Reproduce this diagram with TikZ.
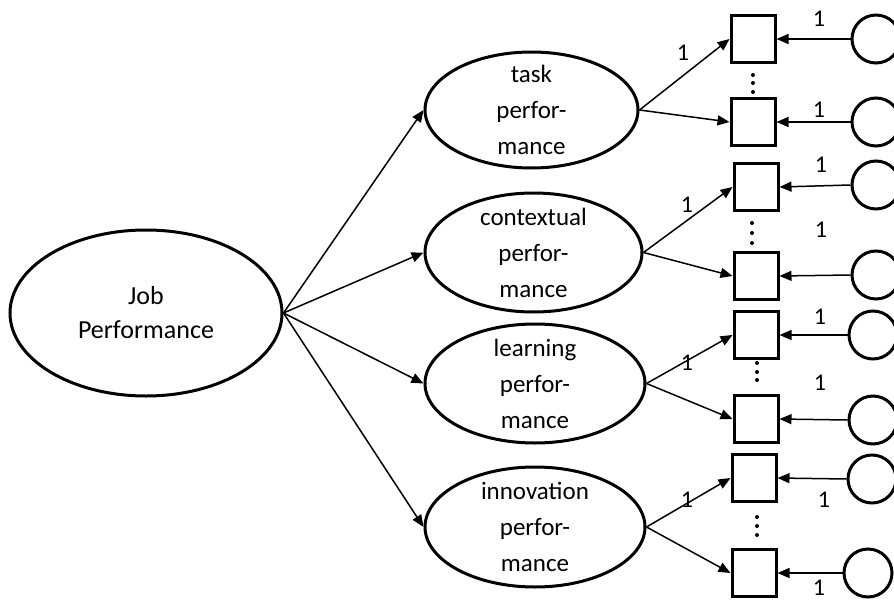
\documentclass[tikz,border=0pt]{standalone}
\usepackage{fontspec}
\setmainfont{Carlito}
\usetikzlibrary{shapes.geometric,arrows.meta}
\tikzset{
  el/.style={draw, ellipse, line width=3pt, inner sep=0pt},
  sq/.style={draw, rectangle, line width=3pt, minimum width=44pt, minimum height=47pt, inner sep=0pt},
  cir/.style={draw, circle, line width=3pt, minimum size=48pt, inner sep=0pt},
  lbl/.style={align=center, font=\fontsize{25}{36}\selectfont, inner sep=0pt},
  one/.style={font=\fontsize{24}{28}\selectfont, inner sep=0pt},
  arr/.style={line width=1.5pt, -{Triangle[length=12pt,width=10pt]}},
  dot/.style={fill=black}
}
\begin{document}
\begin{tikzpicture}[x=1pt,y=-1pt]
\useasboundingbox (0,0) rectangle (894,602);
% main ellipse
\node[el, minimum width=272pt, minimum height=166pt,
  label={[lbl, font=\fontsize{26}{34}\selectfont]center:Job\\Performance}] (job) at (146,313) {};
% dimension ellipses
\node[el, minimum width=213pt, minimum height=116pt, label={[lbl]center:task\\perfor-\\mance}] (task) at (531.5,110) {};
\node[el, minimum width=217pt, minimum height=119pt, label={[lbl]center:contextual\\perfor-\\mance}] (ctx) at (533.5,252.5) {};
\node[el, minimum width=220pt, minimum height=119pt, label={[lbl]center:learning\\perfor-\\mance}] (lrn) at (535,383.5) {};
\node[el, minimum width=220pt, minimum height=120pt, label={[lbl]center:innovation\\perfor-\\mance}] (inn) at (535,527) {};
% squares
\node[sq] (s1) at (753,39) {};
\node[sq] (s2) at (753,122) {};
\node[sq] (s3) at (756,187) {};
\node[sq] (s4) at (756,276) {};
\node[sq] (s5) at (756,335) {};
\node[sq] (s6) at (756,419) {};
\node[sq] (s7) at (754,478) {};
\node[sq] (s8) at (754,573) {};
% circles
\node[cir] (c1) at (876,39) {};
\node[cir] (c2) at (876,122) {};
\node[cir] (c3) at (876,185) {};
\node[cir] (c4) at (876,275) {};
\node[cir] (c5) at (873,335) {};
\node[cir] (c6) at (873,420) {};
\node[cir] (c7) at (872,479) {};
\node[cir] (c8) at (868,573) {};
% arrows from job
\draw[arr] (job.east) -- (task.west);
\draw[arr] (job.east) -- (ctx.west);
\draw[arr] (job.east) -- (lrn.west);
\draw[arr] (job.east) -- (inn.west);
% arrows to squares
\draw[arr] (task.east) -- (s1.west);
\draw[arr] (task.east) -- (s2.west);
\draw[arr] (ctx.east) -- (s3.west);
\draw[arr] (ctx.east) -- (s4.west);
\draw[arr] (lrn.east) -- (s5.west);
\draw[arr] (lrn.east) -- (s6.west);
\draw[arr] (inn.east) -- (s7.west);
\draw[arr] (inn.east) -- (s8.west);
% arrows from circles
\foreach \i in {1,...,8}{
  \draw[arr] (c\i.west) -- (s\i.east);
}
% dots
\foreach \x/\y in {753/75,753/83,753/92, 752/223,752/233,752/243, 757/363,757/372,757/380, 757/517,757/526,757/535}{
  \fill[dot] (\x,\y) circle (2pt);
}
% labels
\node[one] (t1) at (683,53) {1};
\node[one] (t2) at (687,205) {1};
\node[one] (t3) at (687,363) {1};
\node[one] (t4) at (687,500) {1};
\node[one] (u1) at (819,19) {1};
\node[one] (u2) at (819,110) {1};
\node[one] (u3) at (821,165) {1};
\node[one] (u4) at (821,230) {1};
\node[one] (u5) at (820,317) {1};
\node[one] (u6) at (820,383) {1};
\node[one] (u7) at (824,500) {1};
\node[one] (u8) at (819,588) {1};
\end{tikzpicture}
\end{document}
